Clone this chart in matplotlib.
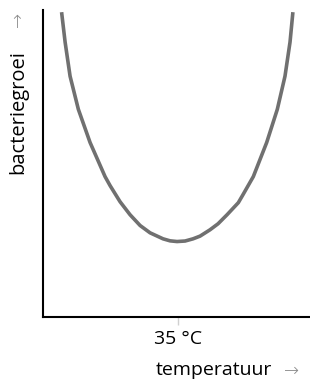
import matplotlib
matplotlib.use("Agg")
import matplotlib.pyplot as plt
import numpy as np

# temperature (°C) and bacterial growth (arbitrary units)
temp = [15.62, 16.17, 17.0, 18.38, 20.33, 22.83, 23.67, 25.33, 27.0, 28.67, 30.33,
        32.5, 33.67, 34.83, 36.17, 37.5, 38.67, 40.33, 41.67, 43.17, 45.05, 45.83,
        47.55, 49.78, 51.55, 52.83, 53.67, 54.12]
growth = [100.67, 91.33, 80.0, 69.0, 58.0, 46.67, 43.67, 38.33, 34.0, 30.43, 28.0,
          26.0, 25.33, 25.1, 25.27, 26.0, 26.9, 29.0, 31.0, 34.0, 38.0, 40.67,
          46.67, 58.0, 69.0, 80.0, 91.33, 100.67]
tick_pos = [35]
tick_labels = ["35 °C"]

plt.rcParams['font.family'] = ['Open Sans', 'DejaVu Sans']

fig = plt.figure(figsize=(3.1, 3.83), dpi=100)
ax = fig.add_axes([0.139, 0.172, 0.861, 0.802])

ax.plot(temp, growth, color="#707070", lw=2.6, solid_joinstyle="round")
ax.set_xlim(12.5, 57)
ax.set_ylim(0, 102)

ax.spines['top'].set_visible(False)
ax.spines['right'].set_visible(False)
ax.spines['left'].set_linewidth(1.5)
ax.spines['bottom'].set_linewidth(1.5)

ax.set_yticks([])
ax.set_xticks(tick_pos)
ax.set_xticklabels(tick_labels, fontsize=14)
ax.tick_params(axis='x', length=6, width=1, color="#d0d0d0", pad=3)

fig.text(0.058, 0.708, "bacteriegroei", rotation=90, ha="center", va="center", fontsize=14.5)
fig.text(0.058, 0.95, "→", rotation=90, ha="center", va="center", fontsize=13,
         color="#8a8a8a", family="DejaVu Sans", fontweight="light")
fig.text(0.69, 0.034, "temperatuur", ha="center", va="center", fontsize=14)
fig.text(0.942, 0.032, "→", ha="center", va="center", fontsize=13,
         color="#8a8a8a", family="DejaVu Sans", fontweight="light")

fig.savefig("out.png", dpi=100)
